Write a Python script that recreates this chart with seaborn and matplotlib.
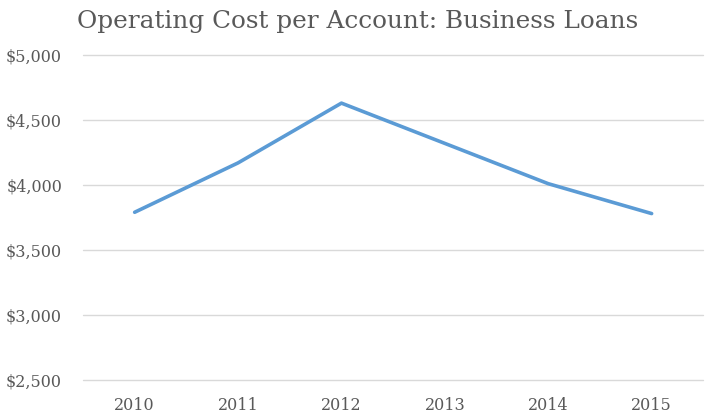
import matplotlib
matplotlib.use("Agg")
import matplotlib.pyplot as plt
import seaborn as sns
import pandas as pd

years = ["2010", "2011", "2012", "2013", "2014", "2015"]
cost = [3790, 4170, 4630, 4320, 4010, 3780]
yticks = [2500, 3000, 3500, 4000, 4500, 5000]
ytick_labels = ["$2,500", "$3,000", "$3,500", "$4,000", "$4,500", "$5,000"]
title = "Operating Cost per Account: Business Loans"

sns.set_theme(style="white")
plt.rcParams['font.family'] = ['DejaVu Serif']

df = pd.DataFrame({"year": years, "cost": cost})

fig = plt.figure(figsize=(7.09, 4.17), dpi=100)
ax = fig.add_axes([0.117, 0.089, 0.875, 0.779])
sns.lineplot(data=df, x="year", y="cost", ax=ax, color="#5B9BD5", linewidth=2.6, sort=False)

ax.set_xlim(-0.5, len(years) - 0.5)
ax.set_ylim(2500, 5000)
ax.set_yticks(yticks)
ax.set_yticklabels(ytick_labels)
ax.grid(axis="y", color="#d9d9d9", linewidth=1)
ax.grid(axis="x", visible=False)
ax.set_axisbelow(True)
for gl in ax.get_ygridlines():
    gl.set_clip_on(False)
for s in ax.spines.values():
    s.set_visible(False)
ax.tick_params(axis="both", length=0, colors="#595959", labelsize=11.5)
ax.tick_params(axis="y", pad=15)
ax.tick_params(axis="x", pad=12)
ax.set_xlabel("")
ax.set_ylabel("")
fig.text(0.505, 0.948, title, ha="center", va="center", fontsize=17.8, color="#595959")

fig.savefig("out.png", dpi=100)
